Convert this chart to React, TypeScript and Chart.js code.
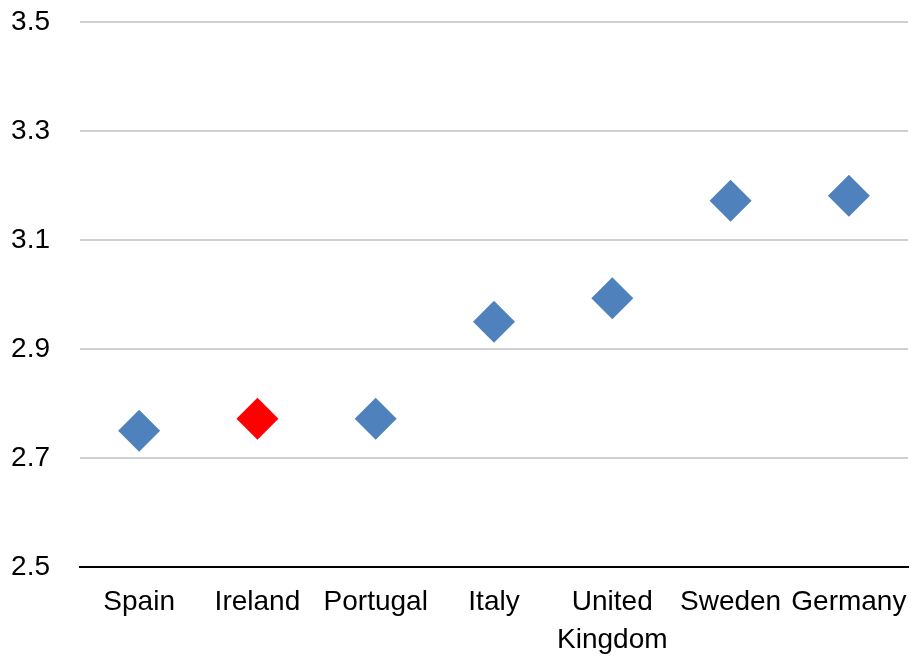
import React, { useEffect, useRef } from "react";
import { Chart, registerables } from "chart.js";

Chart.register(...registerables);

const categories: (string | string[])[] = ["Spain", "Ireland", "Portugal", "Italy", ["United", "Kingdom"], "Sweden", "Germany"];
const values: number[] = [2.75, 2.772, 2.772, 2.95, 2.993, 3.172, 3.181];
const highlightIndex = 1;
const yMin = 2.5;
const yMax = 3.5;
const yStep = 0.2;

const BLUE = "#4F81BD";
const RED = "#FF0000";
const FONT = "'Liberation Sans', Arial, sans-serif";

export default function App() {
  const ref = useRef<HTMLCanvasElement | null>(null);
  useEffect(() => {
    document.body.style.margin = "0";
    const colors = values.map((_, i) => (i === highlightIndex ? RED : BLUE));
    const chart = new Chart(ref.current!, {
      type: "line",
      data: {
        labels: categories,
        datasets: [
          {
            data: values,
            showLine: false,
            pointStyle: "rectRot",
            pointRadius: 21,
            pointHoverRadius: 21,
            pointBorderWidth: 0,
            pointBackgroundColor: colors,
            pointBorderColor: colors,
          },
        ],
      },
      options: {
        animation: false,
        responsive: false,
        layout: { padding: { top: 22, right: 5, left: 0, bottom: 0 } },
        plugins: { legend: { display: false }, tooltip: { enabled: false } },
        scales: {
          x: {
            type: "category",
            offset: true,
            grid: { display: false, drawTicks: false },
            border: { display: true, color: "#000000", width: 2 },
            ticks: {
              color: "#000000",
              font: { family: FONT, size: 28, lineHeight: 1.33 },
              padding: 17,
              maxRotation: 0,
              minRotation: 0,
              autoSkip: false,
            },
            afterFit: (s: any) => {
              s.height = 91;
              s.paddingLeft = 0;
              s.paddingRight = 0;
            },
          },
          y: {
            min: yMin,
            max: yMax,
            grid: {
              color: "#D0D0D0",
              lineWidth: 2,
              drawTicks: false,
            },
            border: { display: false },
            ticks: {
              stepSize: yStep,
              color: "#000000",
              font: { family: FONT, size: 28 },
              padding: 30,
              callback: (v: any) => Number(v).toFixed(1),
            },
            afterFit: (s: any) => {
              s.width = 80;
              s.paddingTop = 0;
              s.paddingBottom = 0;
            },
          },
        },
      },
    });
    return () => chart.destroy();
  }, []);
  return (
    <div style={{ position: "absolute", left: 0, top: 0, width: 913, height: 658, overflow: "hidden" }}>
      <canvas ref={ref} width={929} height={658} />
    </div>
  );
}
